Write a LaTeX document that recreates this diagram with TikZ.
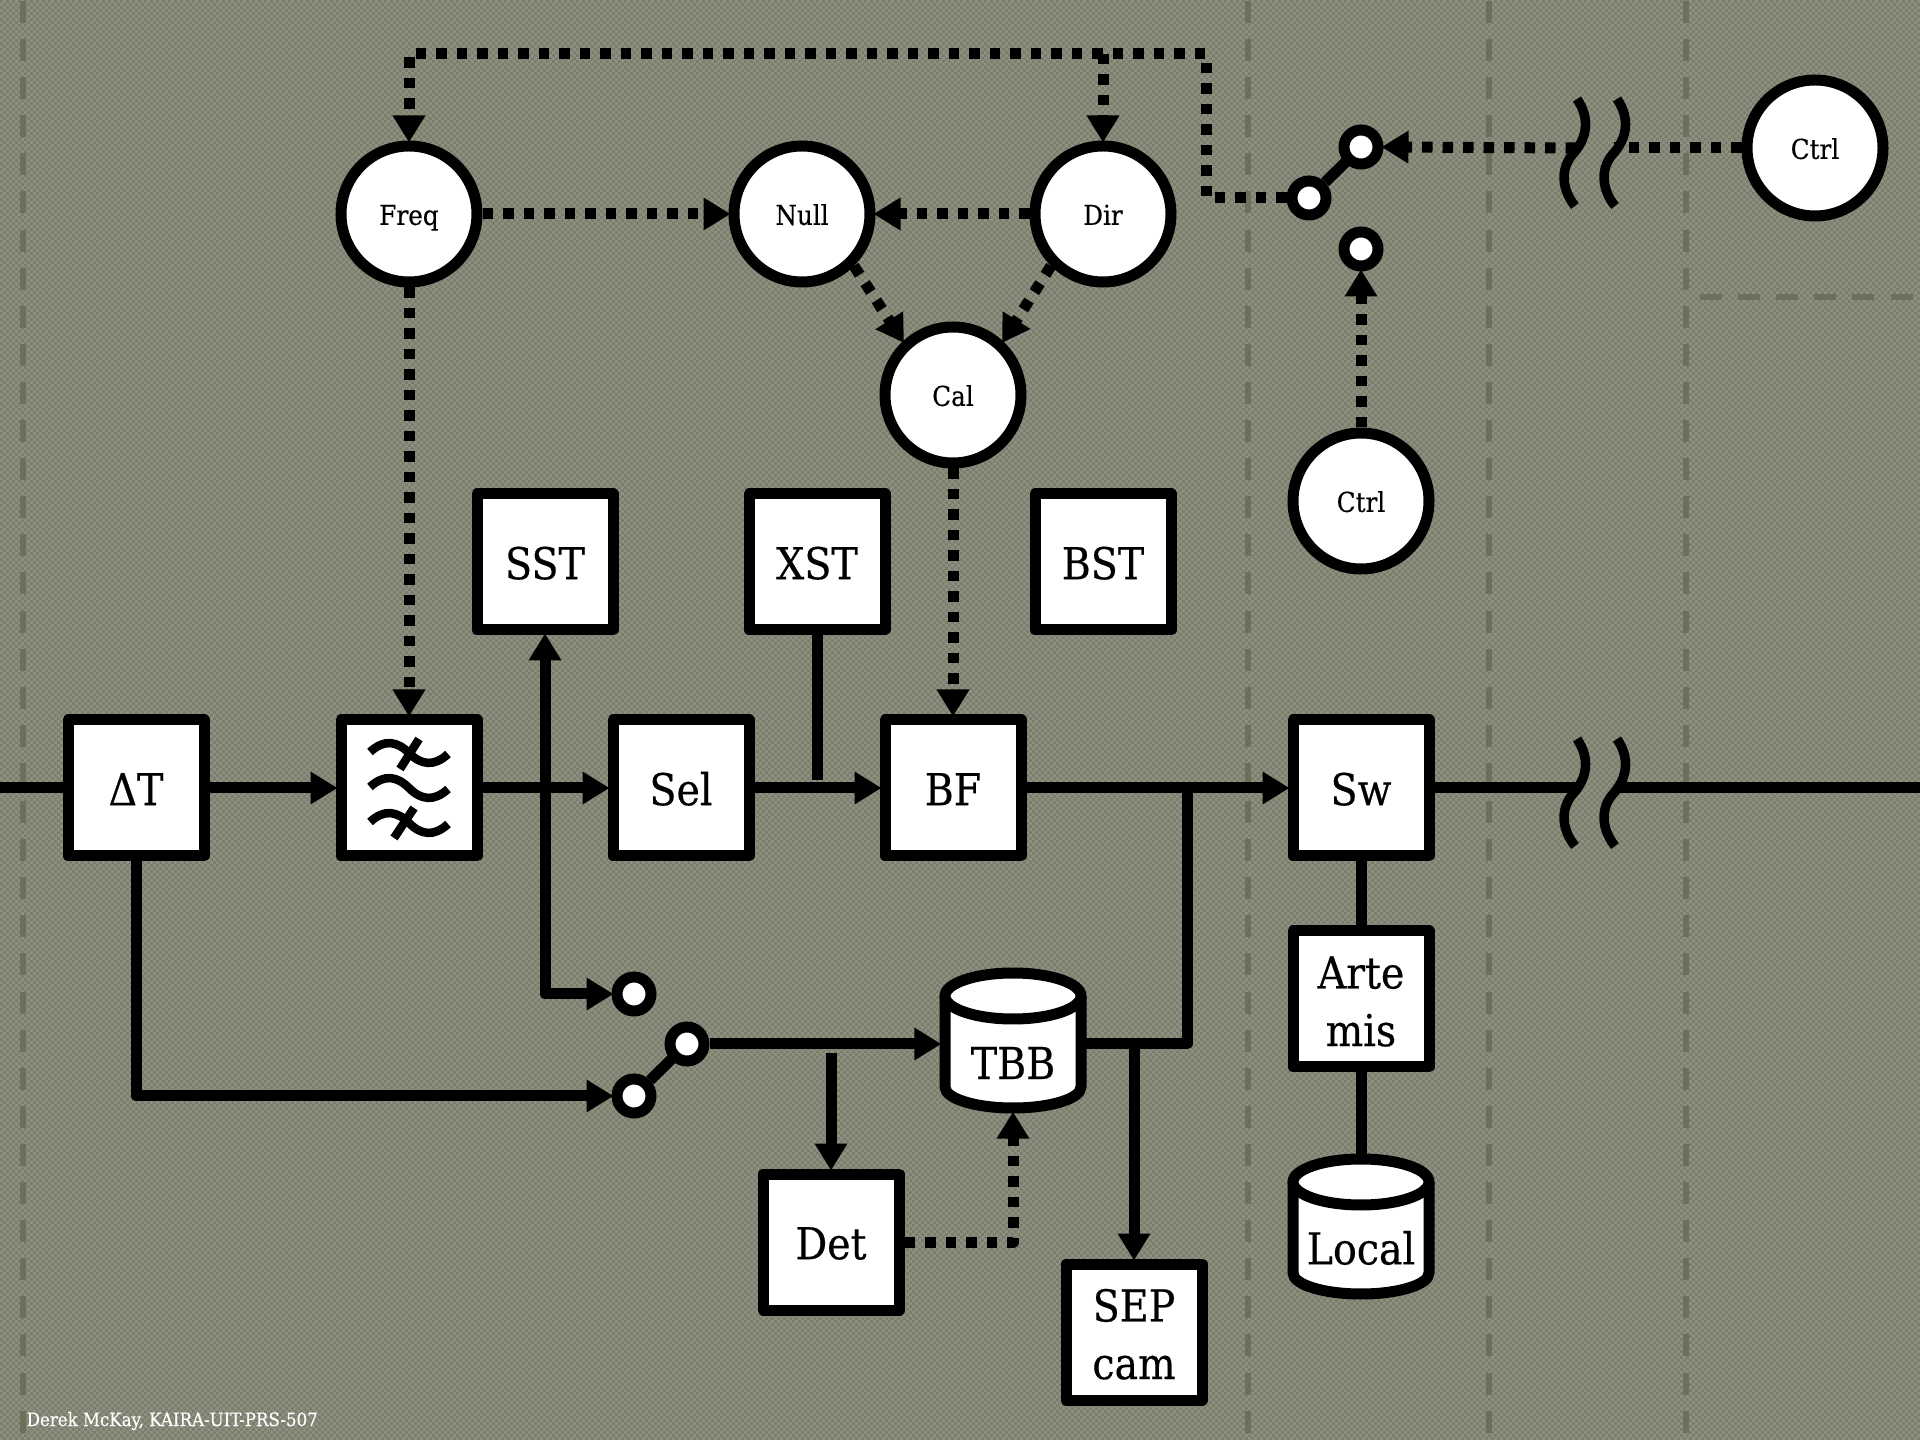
\documentclass[tikz,border=0pt]{standalone}
\usepackage{fontspec}
\setmainfont{DejaVu Serif}[FakeStretch=0.9,FakeBold=0.4]
\usetikzlibrary{arrows.meta,patterns}
\definecolor{bgcol}{RGB}{122,126,108}
\definecolor{bgtile}{RGB}{140,144,126}
\definecolor{zonecol}{RGB}{107,112,90}
\pgfdeclarepatternformonly{weave}{\pgfpointorigin}{\pgfqpoint{0.6mm}{0.6mm}}{\pgfqpoint{0.6mm}{0.6mm}}{
  \pgfpathrectangle{\pgfpointorigin}{\pgfqpoint{0.3mm}{0.3mm}}
  \pgfpathrectangle{\pgfqpoint{0.3mm}{0.3mm}}{\pgfqpoint{0.3mm}{0.3mm}}
  \pgfusepath{fill}
}
\tikzset{
  sig/.style={line width=1.1mm,line join=round,shorten >=-.2mm},
  ctl/.style={sig,dash pattern=on 1.05mm off 1mm},
  zone/.style={line width=.6mm,zonecol,dash pattern=on 2.2mm off 1.61mm},
  boxn/.style={draw,fill=white,line width=1.1mm,line join=round,minimum size=13.6mm,inner sep=0,align=center,text height=9.8pt,text depth=0pt,font=\fontsize{12.5}{16.4}\selectfont},
  twoline/.style={text height=26.8pt},
  circn/.style={draw,fill=white,circle,line width=1.1mm,minimum size=13.6mm,inner sep=0,text height=6.2pt,text depth=0pt,font=\fontsize{7.8}{9}\selectfont},
  pin/.style={draw,fill=white,circle,line width=1.1mm,minimum size=3.4mm,inner sep=0},
  drumn/.style={minimum width=14.6mm,minimum height=14.5mm,inner sep=0},
  drumtxt/.style={inner sep=0,font=\fontsize{12.5}{16.4}\selectfont},
  drum/.pic={
    \draw[line width=1.1mm,line join=round,fill=white] (-68,-44.5) -- (-68,46.5) arc[start angle=180,end angle=0,x radius=68,y radius=21] -- (68,-44.5);
    \draw[line width=1.1mm,fill=white] (0,-44.5) ellipse[x radius=68,y radius=23];
  },
  wave/.pic={
    \draw[line width=.85mm] (-39,-1) .. controls (-25,-14) and (-12,-12) .. (0,0) .. controls (12,12) and (25,14) .. (39,1);
  },
  breakmark/.pic={
    \foreach \d in {0,40}
      \draw[line width=.95mm,shift={(\d,0)}] (-17,-49) .. controls (-4,-30) and (-6,-10) .. (-22,7) .. controls (-34,22) and (-32,42) .. (-19,58);
  }
}
\begin{document}
\begin{tikzpicture}[x=.1mm,y=-.1mm,>={Triangle[length=2.7mm,width=3.1mm]}]
\useasboundingbox (0,0) rectangle (1920,1440);
\fill[bgcol] (0,0) rectangle (1920,1440);
\fill[pattern=weave,pattern color=bgtile] (0,0) rectangle (1920,1440);

\foreach \x in {23,1248,1489,1686}
  \draw[zone] (\x,1) -- (\x,1440);
\draw[zone] (1700,297) -- (1920,297);

\node[boxn] (dt) at (136,788) {ΔT};
\node[boxn] (filt) at (409,788) {};
\node[boxn] (sel) at (681,788) {Sel};
\node[boxn] (bf) at (953,788) {BF};
\node[boxn] (sw) at (1361,788) {Sw};
\node[boxn] (sst) at (545,562) {SST};
\node[boxn] (xst) at (817,562) {XST};
\node[boxn] (bst) at (1103,562) {BST};
\node[boxn,twoline] (arte) at (1361,999) {Arte\\mis};
\node[boxn] (det) at (831,1242) {Det};
\node[boxn,twoline] (sep) at (1134,1332) {SEP\\cam};

\node[circn] (freq) at (409,214) {Freq};
\node[circn] (null) at (802,214) {Null};
\node[circn] (dir) at (1103,214) {Dir};
\node[circn] (cal) at (953,395) {Cal};
\node[circn] (ctrla) at (1361,501) {Ctrl};
\node[circn] (ctrlb) at (1815,148) {Ctrl};

\node[pin] (swt) at (1361,147) {};
\node[pin] (swl) at (1309,198) {};
\node[pin] (swk) at (1361,249) {};
\node[pin] (swb) at (634,994) {};
\node[pin] (swa) at (634,1096) {};
\node[pin] (swc) at (687,1044) {};

\node[drumn] (tbb) at (1013,1040.5) {};
\pic at (tbb) {drum};
\node[drumtxt] (tbbtxt) at (1013,1063) {TBB};
\node[drumn] (local) at (1361,1226.5) {};
\pic at (local) {drum};
\node[drumtxt] (localtxt) at (1361,1248) {Local};

\pic at (filt) {wave};
\pic at ([yshift=-3.5mm]filt) {wave};
\pic at ([yshift=3.5mm]filt) {wave};
\draw[line width=.85mm] (400,769) -- (419,739);
\draw[line width=.85mm] (394,838) -- (414,808);

\coordinate (lin) at (0,788);
\coordinate (lout) at (1920,788);
\coordinate (tap) at (1187,788);
\coordinate (ctop) at (1206,54);
\coordinate (brkl) at (1576,788);
\coordinate (brkr) at (1616,788);
\coordinate (brkp) at (1576,148);
\coordinate (brkq) at (1616,148);
\coordinate (xend) at (817,780);
\coordinate (dtap) at (831,1053);
\pic at (1594,788) {breakmark};
\pic at (1594,148) {breakmark};

\draw[sig] (lin) -- (dt.west);
\draw[sig,->] (dt.east) -- (filt.west);
\draw[sig,->] (filt.east) -- (sel.west);
\draw[sig,->] (sel.east) -- (bf.west);
\draw[sig,->] (bf.east) -- (sw.west);
\draw[sig] (sw.east) -- (brkl);
\draw[sig] (brkr) -- (lout);
\draw[sig,shorten >=0pt] (xst.south) -- (xend);
\draw[sig,<->,shorten <=-.2mm] (sst.south) |- (swb.west);
\draw[sig,->] (dt.south) |- (swa.west);
\draw[sig] (swa) -- (swc);
\draw[sig,->] (swc.east) -- (swc -| tbb.west);
\draw[sig,->] (dtap) -- (det.north);
\draw[sig] (tap) |- (swc -| tbb.east);
\draw[sig,->] (sep.north |- swc) -- (sep.north);
\draw[sig] (sw.south) -- (arte.north);
\draw[sig] (arte.south) -- (local.north);
\draw[sig] (swl) -- (swt);

\draw[ctl,->] (swl.west) -| (ctop) -| (freq.north);
\draw[ctl,->] (dir.north |- ctop) -- (dir.north);
\draw[ctl,->] (freq.east) -- (null.west);
\draw[ctl,->] (dir.west) -- (null.east);
\draw[ctl,->] (null.-45) -- (cal.133);
\draw[ctl,->] (dir.-135) -- (cal.47);
\draw[ctl,->] (freq.south) -- (filt.north);
\draw[ctl,->] (cal.south) -- (bf.north);
\draw[ctl,->] (det.east) -| (tbb.south);
\draw[ctl,->] (ctrla.north) -- (swk.south);
\draw[ctl,->] (brkp) -- (swt.east);
\draw[ctl] (ctrlb.west) -- (brkq);

\node[anchor=base west,inner sep=0,text=white,font=\fontsize{5.25}{6.5}\selectfont] (credit) at (26,1426) {Derek McKay, KAIRA-UIT-PRS-507};
\end{tikzpicture}
\end{document}
